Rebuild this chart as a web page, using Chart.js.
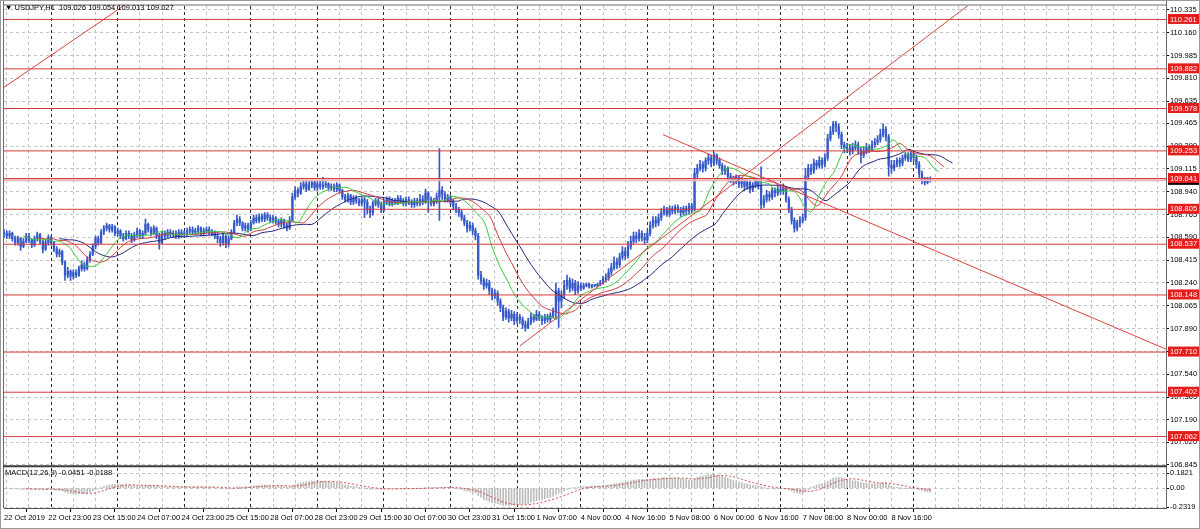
<!DOCTYPE html>
<html><head><meta charset="utf-8">
<script src="https://cdn.jsdelivr.net/npm/chart.js@4.4.0/dist/chart.umd.min.js"></script>
<style>html,body{margin:0;padding:0;background:#fff;overflow:hidden}#wrap{position:relative;width:1200px;height:529px}</style>
</head><body><div id="wrap"><canvas id="c"></canvas></div>
<script>
// ---- data (H1 bars, index 0 = first visible bar) ----
const firstOpen = 108.62;
const closes = [
108.62,108.60,108.62,108.58,108.55,108.58,108.52,108.56,108.60,108.57,
108.53,108.58,108.61,108.56,108.50,108.55,108.59,108.55,108.50,108.46,
108.48,108.40,108.30,108.33,108.29,108.32,108.30,108.35,108.38,108.35,
108.42,108.46,108.52,108.58,108.55,108.63,108.66,108.68,108.65,108.67,
108.62,108.64,108.60,108.58,108.62,108.60,108.57,108.61,108.64,108.60,
108.62,108.69,108.65,108.62,108.66,108.60,108.55,108.62,108.60,108.63,
108.61,108.62,108.60,108.63,108.61,108.62,108.64,108.65,108.63,108.64,
108.66,108.62,108.64,108.65,108.63,108.62,108.60,108.58,108.55,108.60,
108.54,108.58,108.63,108.70,108.73,108.70,108.66,108.68,108.65,108.70,
108.74,108.72,108.75,108.73,108.76,108.74,108.72,108.74,108.71,108.69,
108.72,108.68,108.66,108.72,108.90,108.95,108.93,108.98,109.00,108.96,
108.99,109.01,108.97,109.00,108.98,108.99,109.00,108.97,108.98,108.96,
108.99,108.95,108.90,108.88,108.91,108.86,108.89,108.87,108.85,108.88,
108.86,108.80,108.78,108.85,108.87,108.84,108.80,108.86,108.88,108.85,
108.87,108.86,108.89,108.87,108.85,108.88,108.86,108.84,108.87,108.85,
108.88,108.86,108.93,108.88,108.85,108.87,108.90,108.95,108.92,108.88,
108.90,108.86,108.83,108.80,108.78,108.74,108.70,108.66,108.68,108.64,
108.60,108.30,108.26,108.22,108.24,108.18,108.14,108.16,108.10,108.05,
107.98,108.02,107.97,108.00,107.95,107.98,107.96,107.92,107.90,107.94,
107.98,107.96,108.00,107.97,107.95,107.98,107.96,107.99,108.02,108.18,
108.10,108.15,108.22,108.26,108.20,108.24,108.18,108.22,108.20,108.22,
108.23,108.21,108.22,108.22,108.23,108.24,108.27,108.28,108.32,108.36,
108.40,108.38,108.44,108.48,108.45,108.52,108.56,108.60,108.58,108.62,
108.59,108.57,108.62,108.68,108.72,108.70,108.74,108.78,108.80,108.77,
108.81,108.79,108.82,108.80,108.78,108.81,108.79,108.83,108.80,109.08,
109.12,109.15,109.12,109.18,109.20,109.16,109.22,109.18,109.14,109.10,
109.12,109.06,109.04,109.02,109.05,109.00,109.03,108.98,109.01,108.96,
108.99,109.02,108.98,108.84,108.88,108.92,108.90,108.95,108.93,108.96,
108.94,108.97,108.88,108.80,108.72,108.66,108.70,108.72,108.74,109.06,
109.12,109.10,109.16,109.14,109.18,109.15,109.20,109.35,109.40,109.46,
109.44,109.38,109.30,109.28,109.27,109.25,109.28,109.30,109.26,109.22,
109.25,109.28,109.26,109.30,109.32,109.34,109.38,109.42,109.36,109.14,
109.12,109.15,109.18,109.16,109.20,109.22,109.19,109.23,109.20,109.15,
109.08,109.03,109.01,109.026,109.027];
const highs = [
108.65,108.64,108.64,108.63,108.60,108.60,108.59,108.58,108.62,108.62,
108.58,108.60,108.63,108.62,108.57,108.57,108.61,108.60,108.56,108.52,
108.50,108.49,108.41,108.36,108.34,108.34,108.34,108.37,108.41,108.40,
108.44,108.48,108.54,108.60,108.60,108.65,108.68,108.70,108.69,108.69,
108.68,108.66,108.65,108.62,108.64,108.64,108.62,108.63,108.66,108.65,
108.64,108.73,108.70,108.67,108.68,108.67,108.62,108.64,108.64,108.65,
108.65,108.64,108.64,108.65,108.65,108.64,108.66,108.67,108.67,108.66,
108.68,108.67,108.66,108.67,108.67,108.65,108.64,108.62,108.60,108.62,
108.61,108.60,108.65,108.72,108.76,108.75,108.71,108.70,108.70,108.72,
108.76,108.76,108.77,108.77,108.78,108.78,108.76,108.76,108.75,108.73,
108.74,108.73,108.70,108.75,108.93,108.98,108.97,109.01,109.03,109.02,
109.02,109.03,109.02,109.02,109.02,109.05,109.02,109.01,109.00,109.00,
109.01,109.00,108.96,108.92,108.93,108.92,108.91,108.91,108.89,108.90,
108.90,108.88,108.83,108.87,108.89,108.89,108.86,108.88,108.90,108.90,
108.89,108.89,108.91,108.91,108.89,108.90,108.90,108.88,108.89,108.89,
108.92,108.91,108.96,108.94,108.90,108.89,108.93,109.27,108.98,108.94,
108.92,108.91,108.88,108.85,108.82,108.80,108.76,108.72,108.71,108.70,
108.66,108.62,108.33,108.28,108.27,108.26,108.20,108.19,108.18,108.12,
108.07,108.05,108.04,108.03,108.02,108.01,108.00,107.98,107.95,107.97,
108.01,108.00,108.03,108.02,107.99,108.00,108.00,108.01,108.05,108.24,
108.20,108.18,108.26,108.30,108.28,108.27,108.26,108.25,108.24,108.24,
108.24,108.24,108.23,108.23,108.24,108.26,108.29,108.31,108.35,108.39,
108.44,108.43,108.47,108.52,108.51,108.56,108.60,108.63,108.63,108.65,
108.64,108.62,108.65,108.71,108.75,108.75,108.77,108.81,108.83,108.82,
108.83,108.83,108.84,108.84,108.82,108.83,108.83,108.85,108.85,109.12,
109.15,109.18,109.17,109.20,109.23,109.22,109.24,109.23,109.20,109.16,
109.14,109.13,109.08,109.06,109.07,109.06,109.05,109.04,109.03,109.02,
109.01,109.04,109.03,109.13,108.91,108.95,108.94,108.97,108.97,108.99,
108.99,109.00,108.98,108.90,108.82,108.74,108.72,108.75,108.77,109.12,
109.15,109.15,109.19,109.18,109.21,109.20,109.23,109.38,109.44,109.48,
109.48,109.46,109.40,109.32,109.31,109.30,109.31,109.33,109.32,109.28,
109.28,109.31,109.30,109.33,109.35,109.37,109.42,109.46,109.44,109.38,
109.18,109.18,109.20,109.20,109.22,109.24,109.24,109.25,109.24,109.22,
109.17,109.10,109.05,109.05,109.054];
const lows = [
108.59,108.58,108.58,108.56,108.53,108.53,108.49,108.51,108.55,108.55,
108.51,108.52,108.56,108.54,108.47,108.49,108.53,108.53,108.48,108.44,
108.44,108.38,108.26,108.28,108.26,108.27,108.28,108.29,108.33,108.33,
108.34,108.40,108.45,108.50,108.53,108.54,108.61,108.64,108.63,108.63,
108.60,108.60,108.58,108.56,108.57,108.58,108.55,108.56,108.59,108.58,
108.58,108.61,108.63,108.60,108.61,108.58,108.50,108.54,108.58,108.59,
108.59,108.59,108.58,108.58,108.59,108.59,108.60,108.62,108.61,108.61,
108.62,108.60,108.60,108.62,108.61,108.60,108.58,108.55,108.52,108.53,
108.51,108.52,108.57,108.62,108.68,108.68,108.64,108.64,108.63,108.64,
108.69,108.70,108.70,108.71,108.71,108.72,108.70,108.70,108.69,108.67,
108.67,108.66,108.64,108.65,108.71,108.88,108.90,108.92,108.96,108.94,
108.95,108.97,108.95,108.95,108.96,108.96,108.97,108.95,108.95,108.94,
108.94,108.93,108.88,108.86,108.86,108.84,108.84,108.85,108.83,108.83,
108.74,108.77,108.74,108.76,108.83,108.82,108.78,108.79,108.84,108.83,
108.83,108.84,108.84,108.85,108.83,108.83,108.84,108.82,108.82,108.83,
108.83,108.84,108.85,108.78,108.83,108.83,108.85,108.72,108.88,108.86,
108.86,108.84,108.80,108.78,108.75,108.72,108.68,108.63,108.64,108.61,
108.57,108.27,108.23,108.19,108.20,108.15,108.11,108.12,108.07,108.02,
107.95,107.96,107.94,107.95,107.92,107.93,107.93,107.89,107.87,107.89,
107.92,107.94,107.95,107.95,107.92,107.93,107.94,107.94,107.97,107.96,
107.90,108.05,108.12,108.19,108.17,108.18,108.15,108.16,108.18,108.19,
108.21,108.20,108.20,108.21,108.21,108.22,108.23,108.25,108.26,108.30,
108.34,108.35,108.36,108.42,108.42,108.43,108.50,108.54,108.55,108.56,
108.56,108.54,108.55,108.60,108.66,108.67,108.68,108.72,108.76,108.75,
108.75,108.77,108.77,108.78,108.75,108.76,108.76,108.77,108.78,108.79,
109.05,109.10,109.09,109.10,109.15,109.13,109.14,109.15,109.12,109.07,
109.07,109.03,109.01,108.99,109.00,108.97,108.97,108.95,108.96,108.93,
108.94,108.97,108.96,108.81,108.82,108.86,108.87,108.88,108.90,108.91,
108.92,108.92,108.86,108.78,108.69,108.63,108.64,108.67,108.70,108.72,
109.03,109.07,109.08,109.11,109.12,109.12,109.13,109.18,109.33,109.38,
109.40,109.35,109.27,109.24,109.24,109.22,109.23,109.26,109.23,109.16,
109.20,109.23,109.24,109.25,109.28,109.30,109.32,109.36,109.33,109.06,
109.08,109.10,109.13,109.13,109.14,109.18,109.17,109.17,109.17,109.12,
109.05,109.00,108.99,109.00,109.013];

const levels = [110.261,109.882,109.578,109.253,109.041,108.805,108.537,108.148,107.710,107.402,107.062];
const bidPrice = 109.027;
const priceTickLabels = ['110.335','110.160','109.985','109.810','109.635','109.465','109.290','109.115','108.940','108.765','108.590','108.415','108.240','108.065','107.890','107.715','107.540','107.365','107.190','107.020','106.845'];
const macdTickLabels = ['0.1821','0.00','-0.2319'];
const timeLabels = ['22 Oct 2019','22 Oct 23:00','23 Oct 15:00','24 Oct 07:00','24 Oct 23:00','25 Oct 15:00','28 Oct 07:00','28 Oct 23:00','29 Oct 15:00','30 Oct 07:00','30 Oct 23:00','31 Oct 15:00','1 Nov 07:00','4 Nov 00:00','4 Nov 16:00','5 Nov 08:00','6 Nov 00:00','6 Nov 16:00','7 Nov 08:00','8 Nov 00:00','8 Nov 16:00'];
const timeLabelBars = [0,16,32,48,64,80,96,112,128,144,160,176,192,208,224,240,256,272,288,304,320];
const daySeparatorBars = [17,41,65,89,113,137,161,185,208,232,256,280,304,328];
// trend lines as [barIndex, price] end points
const trendA = [[-2,109.712],[46,110.407]];
const trendB = [[186,107.757],[352,110.439]];
const trendC = [[237.6,109.378],[419,107.732]];
const titleText = '\u25BC USDJPY,H1  109.026 109.054 109.013 109.027';
const macdText = 'MACD(12,26,9) -0.0451 -0.0188';

// ---- derived series (indicator definitions) ----
const opens = closes.map((c,i)=> i===0 ? firstOpen : closes[i-1]);
const median = highs.map((h,i)=>(h+lows[i])/2);
function smma(src,n){const out=[];let v=null;for(let i=0;i<src.length;i++){if(i<n-1){out.push(null);continue;}if(v===null){let s=0;for(let k=i-n+1;k<=i;k++)s+=src[k];v=s/n;}else v=(v*(n-1)+src[i])/n;out.push(v);}return out;}
function shifted(arr,s){return arr.map((v,i)=>v===null?null:{x:i+s,y:v}).filter(p=>p);}
function ema(src,n){const k=2/(n+1);const out=[];let v=src[0];for(const p of src){v=v+k*(p-v);out.push(v);}return out;}
const jaw = shifted(smma(median,13),8), teeth = shifted(smma(median,8),5), lips = shifted(smma(median,5),3);
const e12 = ema(closes,12), e26 = ema(closes,26);
const macd = e12.map((v,i)=>v-e26[i]);
const signal = macd.map((v,i)=> i<8 ? null : macd.slice(i-8,i+1).reduce((a,b)=>a+b,0)/9);

const X_MAX = 419;
const FONT = {family:'Liberation Sans', size:7.5};
const GRID_LIGHT = '#c4c4c4';

const gridBars = [1,9];
daySeparatorBars.forEach(d=>{gridBars.push(d,d+8,d+16);});
for(let b=daySeparatorBars[daySeparatorBars.length-1]+24;b<X_MAX;b+=8) gridBars.push(b);
const sepSet = new Set(daySeparatorBars);

let mainTickKinds = [], mainTickText = [];

const candleColor = '#3559c8';
const datasets = [];
function seg(pts){return pts.map(p=>({x:p[0],y:p[1]}));}
[trendA,trendB,trendC].forEach(t=>datasets.push({type:'line',data:seg(t),xAxisID:'x',yAxisID:'y',borderColor:'#d8433f',borderWidth:1,pointRadius:0,order:0}));
levels.forEach(l=>datasets.push({type:'line',data:[{x:0,y:l},{x:X_MAX,y:l}],xAxisID:'x',yAxisID:'y',borderColor:'#d83a3a',borderWidth:1,pointRadius:0,order:0}));
datasets.push({type:'line',data:[{x:0,y:bidPrice},{x:X_MAX,y:bidPrice}],xAxisID:'x',yAxisID:'y',borderColor:'#eab4b4',borderWidth:2,pointRadius:0,order:1});
datasets.push({type:'line',data:lips,xAxisID:'x',yAxisID:'y',borderColor:'#3cc83c',borderWidth:1,pointRadius:0,order:2});
datasets.push({type:'line',data:teeth,xAxisID:'x',yAxisID:'y',borderColor:'#d23c3c',borderWidth:1,pointRadius:0,order:2});
datasets.push({type:'line',data:jaw,xAxisID:'x',yAxisID:'y',borderColor:'#23237f',borderWidth:1,pointRadius:0,order:2});
datasets.push({type:'bar',data:closes.map((c,i)=>({x:i,y:[opens[i],c]})),xAxisID:'x',yAxisID:'y',backgroundColor:candleColor,barThickness:1.6,minBarLength:1,grouped:false,order:3});
datasets.push({type:'bar',data:closes.map((c,i)=>({x:i,y:[lows[i],highs[i]]})),xAxisID:'x',yAxisID:'y',backgroundColor:candleColor,barThickness:1,grouped:false,order:4});
datasets.push({type:'line',data:signal.map((v,i)=>v===null?null:{x:i,y:v}).filter(p=>p),xAxisID:'x',yAxisID:'ym',borderColor:'#d24a4a',borderWidth:1,borderDash:[2,2],pointRadius:0,order:5});
datasets.push({type:'bar',data:macd.map((v,i)=>({x:i,y:v})),xAxisID:'x',yAxisID:'ym',backgroundColor:'#bcbcbc',barThickness:1,grouped:false,order:6});

const deco = {
  id:'deco',
  afterDraw(chart){
    const ctx=chart.ctx, ca=chart.chartArea, ym=chart.scales.ym;
    ctx.save();
    ctx.strokeStyle='#9a9a9a';ctx.lineWidth=1;
    ctx.strokeRect(0.5,0.5,1199,528);
    ctx.strokeStyle='#6a6a6a';
    ctx.beginPath();ctx.moveTo(3.5,1);ctx.lineTo(3.5,ca.bottom);ctx.stroke();
    ctx.beginPath();ctx.moveTo(ca.right+0.5,1);ctx.lineTo(ca.right+0.5,ca.bottom+0.5);ctx.stroke();
    ctx.beginPath();ctx.moveTo(3,ca.top-0.5);ctx.lineTo(ca.right,ca.top-0.5);ctx.stroke();
    ctx.strokeStyle='#3c3c3c';ctx.lineWidth=2;
    ctx.beginPath();ctx.moveTo(3,ym.top);ctx.lineTo(ca.right+1,ym.top);ctx.stroke();
    ctx.fillStyle='#000';ctx.font='7.5px "Liberation Sans"';ctx.textBaseline='middle';ctx.textAlign='left';
    ctx.fillText(titleText,5,8);
    ctx.fillText(macdText,5,ym.top+7);
    ctx.restore();
  }
};

new Chart(document.getElementById('c'),{
  type:'line',
  data:{datasets},
  plugins:[deco],
  options:{
    responsive:true,maintainAspectRatio:false,animation:false,devicePixelRatio:1,
    layout:{padding:{left:4,top:2,right:0,bottom:0}},
    plugins:{legend:{display:false},tooltip:{enabled:false},title:{display:false}},
    elements:{line:{tension:0}},
    scales:{
      xg:{type:'linear',position:'top',min:0,max:X_MAX,bounds:'data',
        afterBuildTicks:s=>{s.ticks=gridBars.map(v=>({value:v}));},
        afterFit:s=>{s.height=0;},
        ticks:{display:false},
        grid:{drawTicks:false,color:c=>sepSet.has(c.tick&&c.tick.value)?'#2a2a2a':GRID_LIGHT,lineWidth:1},
        border:{display:false,dash:[3,3]}},
      x:{type:'linear',position:'bottom',min:0,max:X_MAX,bounds:'data',offset:false,
        afterBuildTicks:s=>{s.ticks=timeLabelBars.map(v=>({value:v}));},
        afterFit:s=>{s.height=21;},
        ticks:{autoSkip:false,maxRotation:0,align:'start',padding:1,color:'#000',font:FONT,callback:(v,i)=>timeLabels[i]},
        grid:{drawOnChartArea:false,drawTicks:true,tickLength:4,tickColor:'#000'},
        border:{display:true,color:'#555',width:1}},
      y:{type:'linear',position:'right',stack:'panes',stackWeight:464,weight:0,min:106.834,max:110.368,bounds:'data',
        afterBuildTicks:s=>{
          const t=[];mainTickKinds=[];mainTickText=[];
          priceTickLabels.forEach(l=>{t.push({value:parseFloat(l)});mainTickKinds.push('n');mainTickText.push(l);});
          t.push({value:bidPrice});mainTickKinds.push('b');mainTickText.push(bidPrice.toFixed(3));
          levels.forEach(l=>{t.push({value:l});mainTickKinds.push('l');mainTickText.push(l.toFixed(3));});
          s.ticks=t;},
        afterFit:s=>{s.width=34;},
        ticks:{autoSkip:false,padding:1,font:FONT,crossAlign:'near',
          callback:(v,i)=>mainTickText[i],
          color:c=>mainTickKinds[c.index]==='n'?'#000':'#fff',
          showLabelBackdrop:true,
          backdropColor:c=>mainTickKinds[c.index]==='l'?'#e41c1c':(mainTickKinds[c.index]==='b'?'#000':'rgba(0,0,0,0)'),
          backdropPadding:{left:2,right:3,top:1,bottom:0}},
        grid:{drawTicks:true,tickLength:3,
          color:c=>mainTickKinds[c.index]==='n'?GRID_LIGHT:'rgba(0,0,0,0)',
          tickColor:c=>mainTickKinds[c.index]==='n'?'#000':'rgba(0,0,0,0)'},
        border:{display:false,dash:[3,3]}},
      ym:{type:'linear',position:'right',stack:'panes',stackWeight:42,weight:5,min:-0.244,max:0.267,bounds:'data',
        afterBuildTicks:s=>{s.ticks=macdTickLabels.map(l=>({value:parseFloat(l)}));},
        afterFit:s=>{s.width=34;},
        ticks:{autoSkip:false,padding:1,font:FONT,color:'#000',crossAlign:'near',callback:(v,i)=>macdTickLabels[i]},
        grid:{drawTicks:true,tickLength:3,color:GRID_LIGHT,tickColor:'#000'},
        border:{display:false,dash:[3,3]}}
    }
  }
});
</script></body></html>
